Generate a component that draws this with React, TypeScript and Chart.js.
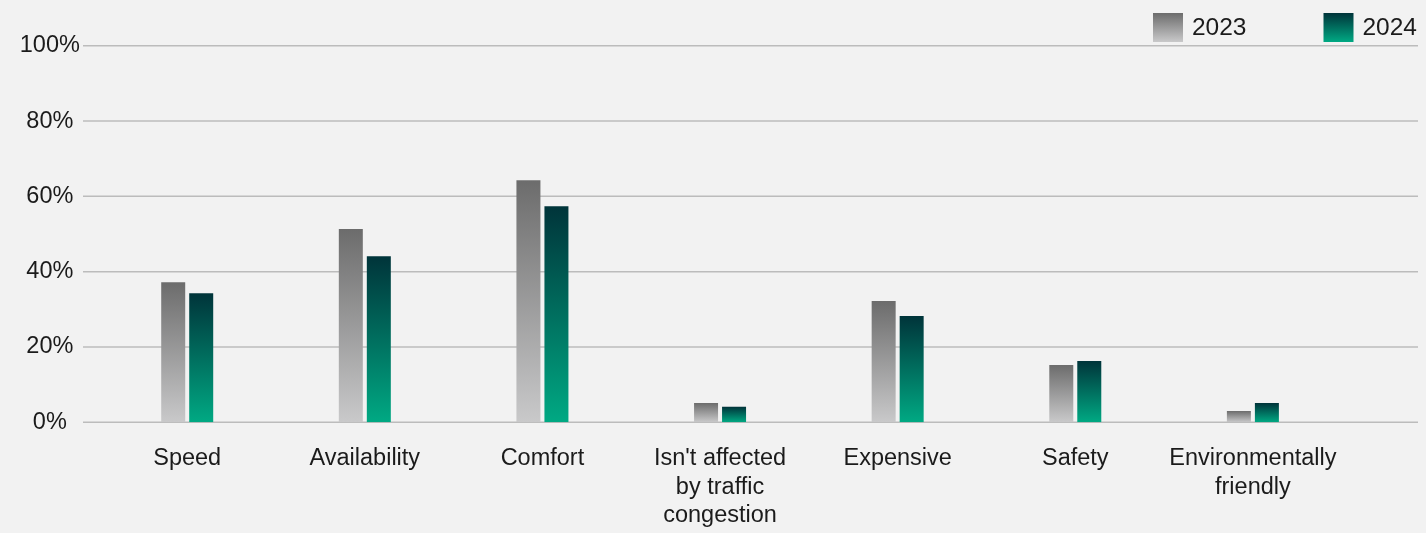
import React, { useEffect, useRef } from "react";
import { Chart, registerables } from "chart.js";

Chart.register(...registerables);

const categories: (string | string[])[] = [
  "Speed",
  "Availability",
  "Comfort",
  ["Isn't affected", "by traffic", "congestion"],
  "Expensive",
  "Safety",
  ["Environmentally", "friendly"],
];
const series2023 = [37.2, 51.3, 64.3, 5.1, 32.2, 15.2, 3.0];
const series2024 = [34.3, 44.1, 57.4, 4.1, 28.2, 16.3, 5.1];
const seriesNames = ["2023", "2024"];
const yTickStep = 20;
const yMax = 100;

const FONT = "'Liberation Sans', Arial, sans-serif";
const FONT_SIZE = 23.5;
const LEGEND_FONT_SIZE = 24.5;
const TEXT_COLOR = "#1b1b1b";
const GRID_COLOR = "#bcbcbc";
const GRAD_2023: [string, string] = ["#6c6c6c", "#c9c9ca"];
const GRAD_2024: [string, string] = ["#00343a", "#00a983"];

function barGradient(colors: [string, string]) {
  return (c: any) => {
    const chart = c.chart;
    const { ctx, chartArea, scales } = chart;
    if (!chartArea || c.type !== "data" || !scales.y) return colors[1];
    const v = c.parsed && typeof c.parsed.y === "number" ? c.parsed.y : c.raw;
    const yTop = scales.y.getPixelForValue(v);
    const yBase = scales.y.getPixelForValue(0);
    if (!isFinite(yTop) || !isFinite(yBase) || yBase - yTop < 0.5) return colors[1];
    const g = ctx.createLinearGradient(0, yTop, 0, yBase);
    g.addColorStop(0, colors[0]);
    g.addColorStop(1, colors[1]);
    return g;
  };
}

const extGridPlugin = {
  id: "extGrid",
  beforeDatasetsDraw(chart: any) {
    const { ctx, scales, chartArea } = chart;
    const y = scales.y;
    ctx.save();
    ctx.strokeStyle = GRID_COLOR;
    ctx.lineWidth = 1.5;
    y.ticks.forEach((t: any) => {
      const py = y.getPixelForValue(t.value);
      ctx.beginPath();
      ctx.moveTo(chartArea.left - 15.4, py);
      ctx.lineTo(chart.width - 8, py);
      ctx.stroke();
    });
    ctx.restore();
  },
};

const legendPlugin = {
  id: "customLegend",
  afterDraw(chart: any) {
    const { ctx } = chart;
    const grads = [GRAD_2023, GRAD_2024];
    const boxW = 30;
    const boxH = 29;
    const boxTop = 13;
    const textGap = 9;
    const itemGap = 77;
    ctx.save();
    ctx.font = `${LEGEND_FONT_SIZE}px ${FONT}`;
    ctx.textBaseline = "middle";
    ctx.textAlign = "left";
    let x = chart.width - 9;
    for (let i = seriesNames.length - 1; i >= 0; i--) {
      const label = seriesNames[i];
      const w = ctx.measureText(label).width;
      const textX = x - w;
      const boxX = textX - textGap - boxW;
      const g = ctx.createLinearGradient(0, boxTop, 0, boxTop + boxH);
      g.addColorStop(0, grads[i][0]);
      g.addColorStop(1, grads[i][1]);
      ctx.fillStyle = g;
      ctx.fillRect(boxX, boxTop, boxW, boxH);
      ctx.fillStyle = TEXT_COLOR;
      ctx.fillText(label, textX, boxTop + boxH / 2 + 1);
      x = boxX - itemGap;
    }
    ctx.restore();
  },
};

export default function App() {
  const canvasRef = useRef<HTMLCanvasElement | null>(null);

  useEffect(() => {
    document.body.style.margin = "0";
    document.body.style.background = "#f2f2f2";
    const canvas = canvasRef.current;
    if (!canvas) return;
    const chart = new Chart(canvas, {
      type: "bar",
      data: {
        labels: categories as any,
        datasets: [
          {
            label: seriesNames[0],
            data: series2023,
            backgroundColor: barGradient(GRAD_2023) as any,
            borderWidth: 0,
            barPercentage: 0.857,
            categoryPercentage: 0.3153,
          },
          {
            label: seriesNames[1],
            data: series2024,
            backgroundColor: barGradient(GRAD_2024) as any,
            borderWidth: 0,
            barPercentage: 0.857,
            categoryPercentage: 0.3153,
          },
        ],
      },
      options: {
        animation: false,
        responsive: false,
        maintainAspectRatio: false,
        layout: {
          padding: { left: 20, right: 84.3, top: 45.7, bottom: 0 },
        },
        plugins: {
          legend: { display: false },
          tooltip: { enabled: false },
        },
        scales: {
          x: {
            grid: { display: false, drawTicks: false },
            border: { display: false },
            afterFit: (scale: any) => {
              scale.height = 110.7;
            },
            ticks: {
              color: TEXT_COLOR,
              font: { family: FONT, size: FONT_SIZE, lineHeight: 1.22 },
              padding: 22,
              maxRotation: 0,
              autoSkip: false,
            },
          },
          y: {
            min: 0,
            max: yMax,
            grid: { display: false, drawTicks: false },
            border: { display: false },
            afterFit: (scale: any) => {
              scale.width = 78.4;
            },
            ticks: {
              stepSize: yTickStep,
              color: TEXT_COLOR,
              crossAlign: "center",
              padding: 18.5,
              font: { family: FONT, size: FONT_SIZE },
              callback: (v: any) => `${v}%`,
            },
          },
        },
      },
      plugins: [extGridPlugin, legendPlugin],
    });
    return () => chart.destroy();
  }, []);

  return (
    <div style={{ width: 1426, height: 533, background: "#f2f2f2" }}>
      <canvas ref={canvasRef} width={1426} height={533} style={{ display: "block" }} />
    </div>
  );
}
